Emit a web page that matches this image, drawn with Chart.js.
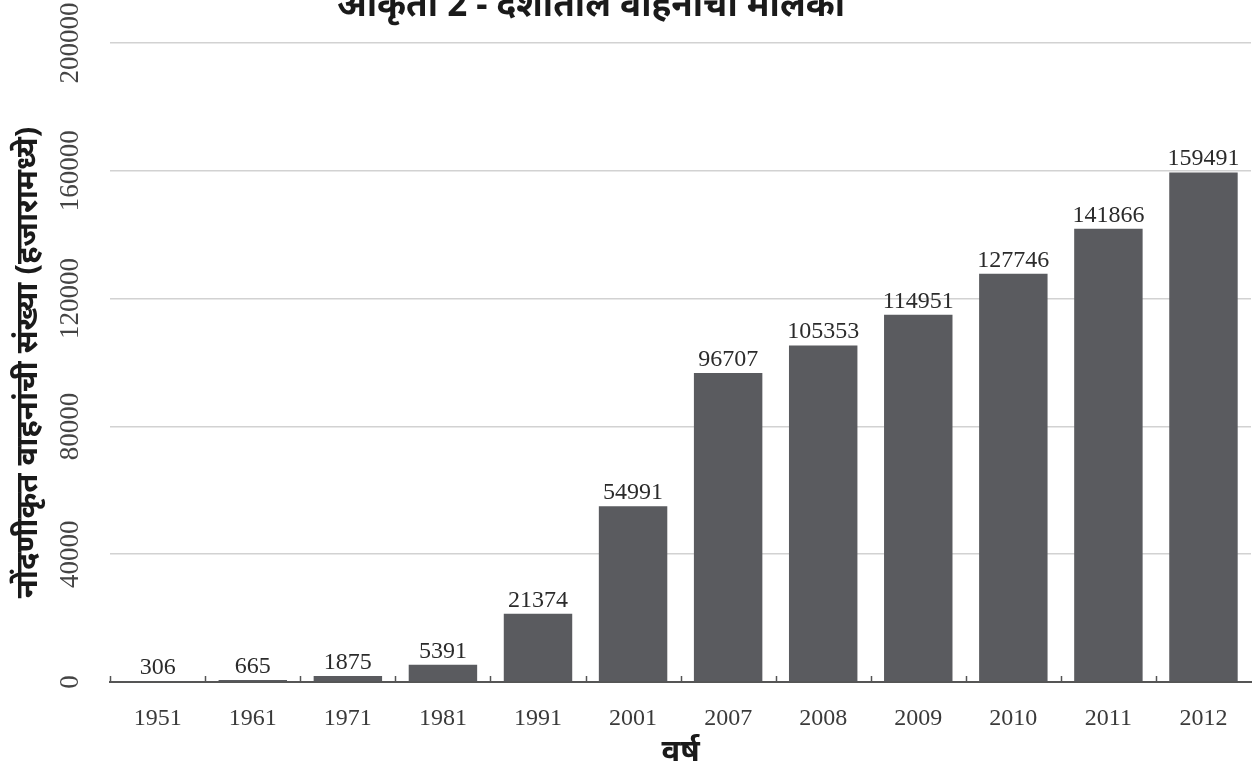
<!DOCTYPE html>
<html>
<head>
<meta charset="utf-8">
<script src="https://cdn.jsdelivr.net/npm/chart.js@4/dist/chart.umd.min.js"></script>
<style>
  html, body { margin: 0; padding: 0; background: #fff; overflow: hidden; }
  #wrap { position: absolute; left: 0; top: -14px; width: 1254px; height: 789px; }
</style>
</head>
<body>
<div id="wrap"><canvas id="c" width="1254" height="789"></canvas></div>
<script>
const titleText = 'आकृती 2 - देशातील वाहनांची मालकी';
const yTitle = 'नोंदणीकृत वाहनांची संख्या (हजारामध्ये)';
const xTitle = 'वर्ष';
const years = ['1951','1961','1971','1981','1991','2001','2007','2008','2009','2010','2011','2012'];
const vehicles = [306, 665, 1875, 5391, 21374, 54991, 96707, 105353, 114951, 127746, 141866, 159491];
const yMax = 200000;
const yStep = 40000;

const serif = "'Liberation Serif', 'DejaVu Serif', serif";
const deva = "'Noto Sans', 'Noto Sans Devanagari', 'Lohit Devanagari', sans-serif";

const chartTitle = {
  id: 'chartTitle',
  afterDraw(chart) {
    const ctx = chart.ctx;
    ctx.save();
    ctx.font = 'bold 35px ' + deva;
    ctx.fillStyle = '#1a1a1a';
    ctx.textAlign = 'center';
    ctx.textBaseline = 'middle';
    ctx.fillText(titleText, 591, 20);
    ctx.restore();
  }
};

const valueLabels = {
  id: 'valueLabels',
  afterDatasetsDraw(chart) {
    const ctx = chart.ctx;
    const meta = chart.getDatasetMeta(0);
    ctx.save();
    ctx.font = '24px ' + serif;
    ctx.fillStyle = '#2b2b2b';
    ctx.textAlign = 'center';
    ctx.textBaseline = 'alphabetic';
    meta.data.forEach((bar, i) => {
      ctx.fillText(String(vehicles[i]), bar.x, bar.y - 7);
    });
    ctx.restore();
  }
};

const rotatedYTicks = {
  id: 'rotatedYTicks',
  afterDraw(chart) {
    const y = chart.scales.y;
    const ctx = chart.ctx;
    ctx.save();
    ctx.font = '27px ' + serif;
    ctx.fillStyle = '#444';
    ctx.textAlign = 'center';
    ctx.textBaseline = 'middle';
    y.ticks.forEach(t => {
      const py = y.getPixelForValue(t.value);
      ctx.save();
      ctx.translate(71, py);
      ctx.rotate(-Math.PI / 2);
      ctx.fillText(String(t.value), 0, 0);
      ctx.restore();
    });
    ctx.restore();
  }
};

const boundaryTicks = {
  id: 'boundaryTicks',
  afterDraw(chart) {
    const x = chart.scales.x;
    const y0 = chart.scales.y.getPixelForValue(0);
    const ctx = chart.ctx;
    ctx.save();
    ctx.strokeStyle = '#555';
    ctx.lineWidth = 1.5;
    const w = (x.getPixelForValue(1) - x.getPixelForValue(0));
    for (let i = 0; i < years.length; i++) {
      const px = Math.round(x.getPixelForValue(i) - w / 2) + 0.5;
      ctx.beginPath();
      ctx.moveTo(px, y0);
      ctx.lineTo(px, y0 - 6);
      ctx.stroke();
    }
    ctx.restore();
  }
};

new Chart(document.getElementById('c'), {
  type: 'bar',
  data: {
    labels: years,
    datasets: [{
      data: vehicles,
      backgroundColor: '#5a5b5f',
      borderWidth: 0,
      categoryPercentage: 0.72,
      barPercentage: 1.0
    }]
  },
  options: {
    responsive: false,
    animation: false,
    devicePixelRatio: 1,
    layout: { padding: { left: 10, right: 3, top: 57, bottom: 4 } },
    plugins: {
      legend: { display: false },
      tooltip: { enabled: false },
      title: { display: false }
    },
    scales: {
      x: {
        offset: true,
        grid: { display: false, drawTicks: false },
        border: { display: true, color: '#555', width: 2 },
        ticks: {
          color: '#3a3a3a',
          font: { family: serif, size: 24 },
          padding: 22,
          maxRotation: 0
        },
        title: {
          display: true,
          text: xTitle,
          color: '#1a1a1a',
          font: { family: deva, size: 31, weight: 'bold' },
          padding: { top: -21, bottom: 0 }
        }
      },
      y: {
        min: 0,
        max: yMax,
        grid: { color: '#d2d2d2', lineWidth: 1.5, drawTicks: false },
        border: { display: false },
        ticks: {
          stepSize: yStep,
          display: false
        },
        title: {
          display: true,
          text: yTitle,
          color: '#1a1a1a',
          font: { family: deva, size: 31, weight: 'bold' },
          padding: { top: 0, bottom: 63 }
        }
      }
    }
  },
  plugins: [valueLabels, rotatedYTicks, boundaryTicks, chartTitle]
});
</script>
</body>
</html>
